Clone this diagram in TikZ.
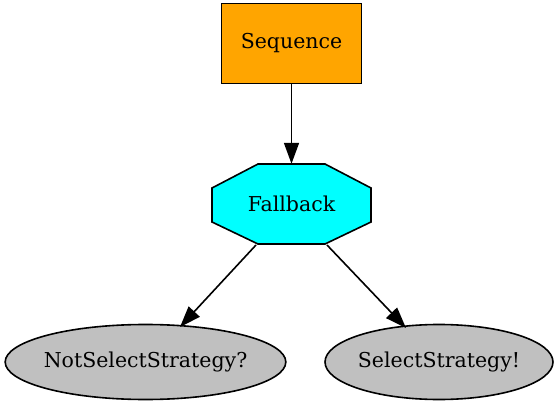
\documentclass[tikz,border=0pt]{standalone}
\usepackage{fontspec}
\setmainfont{DejaVu Serif}
\usetikzlibrary{shapes.geometric,arrows.meta}
\definecolor{seqorange}{RGB}{255,165,0}
\definecolor{fbcyan}{RGB}{0,255,255}
\definecolor{leafgray}{RGB}{192,192,192}
\tikzset{
  x=1pt, y=-1pt,
  labelfont/.style={font=\fontsize{20.5}{24}\selectfont},
  base/.style={draw=black, line width=1.6pt, labelfont, inner sep=0pt},
  seqbox/.style={base, rectangle, fill=seqorange, minimum width=140pt, minimum height=80pt},
  leaf/.style={base, ellipse, fill=leafgray, inner xsep=-2.5pt},
  edge/.style={draw=black, line width=1.6pt, -{Triangle[length=21pt,width=15pt]}}
}
\begin{document}
\begin{tikzpicture}
\useasboundingbox (0,0) rectangle (554,406);
\node[seqbox] (seq) at (291.5,43.5) {Sequence};
% octagonal fallback node
\filldraw[fill=fbcyan, draw=black, line width=1.6pt, line join=miter]
  (258,164) -- (325,164) -- (371,188) -- (371,222) -- (325,244) -- (258,244) -- (212,222) -- (212,188) -- cycle;
\node[labelfont, minimum width=158pt, minimum height=80pt, inner sep=0pt] (fb) at (291.5,204) {Fallback};
\node[leaf, minimum width=278pt, minimum height=75pt] (nss) at (145.5,362) {NotSelectStrategy?};
\node[leaf, minimum width=228pt, minimum height=75pt] (ss) at (439,362) {SelectStrategy!};
\coordinate (fbl) at (256,245);
\coordinate (fbr) at (327,245);
\coordinate (nsstop) at (180,327);
\coordinate (sstop) at (406,328);
\draw[edge] (seq.south) -- (fb.north);
\draw[edge] (fbl) -- (nsstop);
\draw[edge] (fbr) -- (sstop);
\end{tikzpicture}
\end{document}
